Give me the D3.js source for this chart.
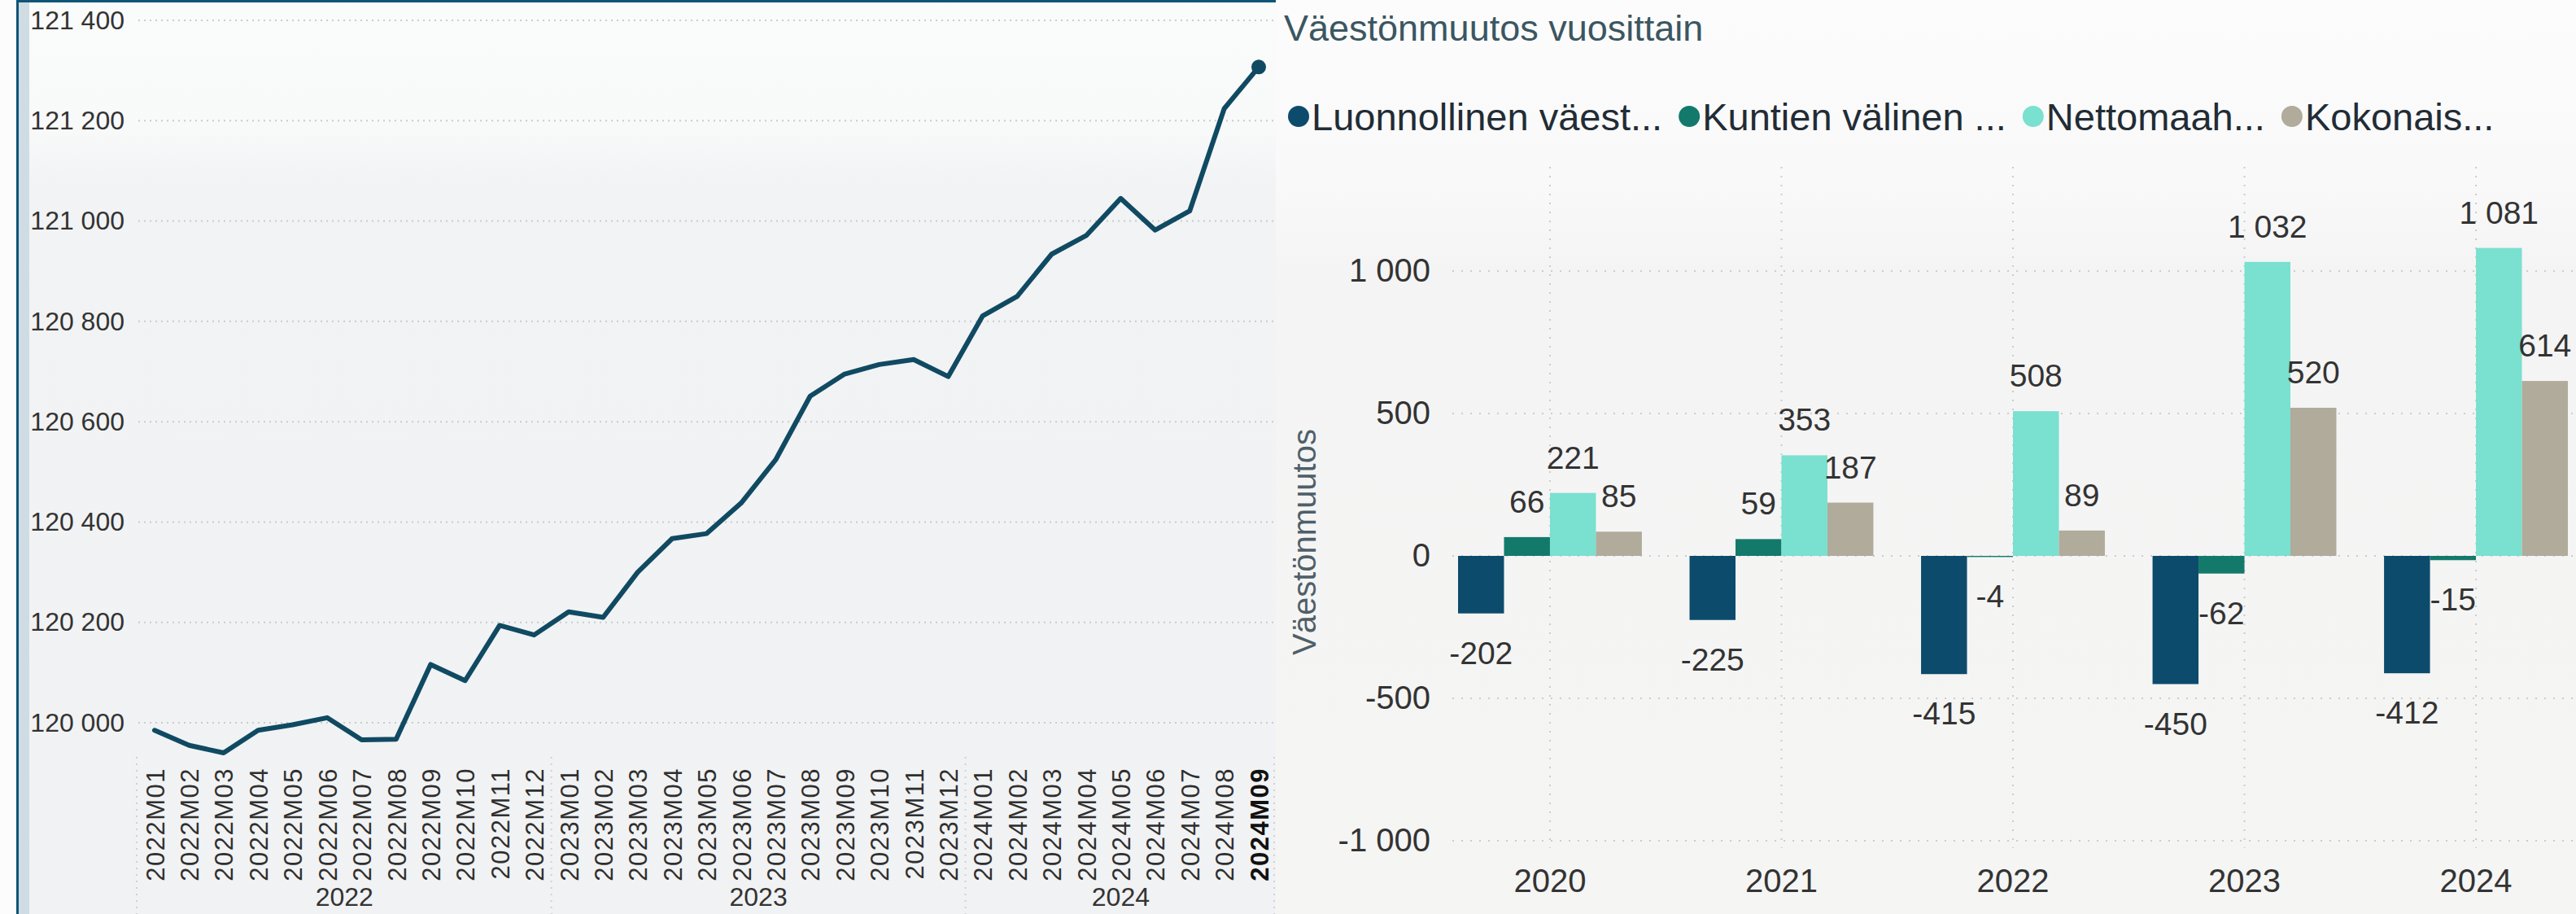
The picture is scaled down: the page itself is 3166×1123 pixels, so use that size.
<!DOCTYPE html>
<html>
<head>
<meta charset="utf-8">
<script src="https://cdn.jsdelivr.net/npm/d3@7"></script>
<style>
  body { margin: 0; background: #fcfcfc; }
  svg { display: block; font-family: "Liberation Sans", Arial, sans-serif; }
</style>
</head>
<body>
<script>
// left chart: population by month
var months = ["2022M01","2022M02","2022M03","2022M04","2022M05","2022M06","2022M07","2022M08","2022M09","2022M10","2022M11","2022M12",
              "2023M01","2023M02","2023M03","2023M04","2023M05","2023M06","2023M07","2023M08","2023M09","2023M10","2023M11","2023M12",
              "2024M01","2024M02","2024M03","2024M04","2024M05","2024M06","2024M07","2024M08","2024M09"];
var population = [119985,119955,119940,119985,119996,120010,119966,119967,120116,120084,120194,120175,
                  120221,120210,120300,120367,120377,120438,120524,120651,120695,120714,120724,120690,
                  120811,120850,120934,120971,121045,120982,121020,121224,121307];
var monthYears = ["2022","2023","2024"];
var popTicks = [120000,120200,120400,120600,120800,121000,121200,121400];

// right chart: yearly change
var years = ["2020","2021","2022","2023","2024"];
var seriesNames = ["Luonnollinen väest...","Kuntien välinen ...","Nettomaah...","Kokonais..."];
var luonnollinen = [-202,-225,-415,-450,-412];
var kuntien = [66,59,-4,-62,-15];
var netto = [221,353,508,1032,1081];
var kokonais = [85,187,89,520,614];
var changeTicks = [-1000,-500,0,500,1000];
var seriesColors = ["#0d4b6c","#137a6b","#7ae0cf","#b0ab9b"];

var W = 3166, H = 1123;
var fi = d3.formatLocale({decimal: ",", thousands: "\u00a0", grouping: [3], currency: ["", " €"], minus: "-"});
var fmt = fi.format(",d");

var svg = d3.select("body").append("svg").attr("width", W).attr("height", H);

var defs = svg.append("defs");
var g1 = defs.append("linearGradient").attr("id","bgL").attr("x1",0).attr("y1",0).attr("x2",0).attr("y2",1);
g1.append("stop").attr("offset","0%").attr("stop-color","#fafbfb");
g1.append("stop").attr("offset","14%").attr("stop-color","#f8f9f9");
g1.append("stop").attr("offset","20%").attr("stop-color","#f2f3f4");
g1.append("stop").attr("offset","100%").attr("stop-color","#f1f2f3");
var g2 = defs.append("linearGradient").attr("id","bgR").attr("x1",0).attr("y1",0).attr("x2",0).attr("y2",1);
g2.append("stop").attr("offset","0%").attr("stop-color","#fcfcfc");
g2.append("stop").attr("offset","20%").attr("stop-color","#f9f9f9");
g2.append("stop").attr("offset","30%").attr("stop-color","#f4f4f4");
g2.append("stop").attr("offset","100%").attr("stop-color","#f5f5f4");

svg.append("rect").attr("x",22).attr("y",0).attr("width",1546).attr("height",H).attr("fill","url(#bgL)");
svg.append("rect").attr("x",1568).attr("y",0).attr("width",W-1568).attr("height",H).attr("fill","url(#bgR)");
svg.append("rect").attr("x",23).attr("y",0).attr("width",13).attr("height",H).attr("fill","#cfdce3");
svg.append("rect").attr("x",20).attr("y",0).attr("width",3).attr("height",H).attr("fill","#0f5577");
svg.append("rect").attr("x",20).attr("y",0).attr("width",1548).attr("height",3).attr("fill","#0f5577");

// ---------- line chart ----------
var x = d3.scalePoint().domain(months).range([190, 1547]);
var y = d3.scaleLinear().domain([120000, 121400]).range([888, 25]);

var left = svg.append("g");

left.append("g").selectAll("line")
    .data(popTicks)
    .enter().append("line")
    .attr("x1", 170).attr("x2", 1565)
    .attr("y1", function(d){ return y(d); })
    .attr("y2", function(d){ return y(d); })
    .attr("stroke", "#c9cbcd").attr("stroke-width", 2)
    .attr("stroke-dasharray", "2 5");

var yAx = left.append("g")
    .attr("transform", "translate(156,0)")
    .call(d3.axisLeft(y).tickValues(popTicks).tickFormat(fmt).tickSize(0).tickPadding(3));
yAx.select(".domain").remove();
yAx.selectAll("text").attr("font-size", 32).attr("fill", "#333").attr("font-family", null);

// separators between years under the axis
var seps = [168];
monthYears.slice(1).forEach(function(yr){
    var i = months.indexOf(yr + "M01");
    seps.push((x(months[i-1]) + x(months[i])) / 2);
});
seps.push(1566);
left.append("g").selectAll("line")
    .data(seps)
    .enter().append("line")
    .attr("x1", function(d){ return d; }).attr("x2", function(d){ return d; })
    .attr("y1", 930).attr("y2", H)
    .attr("stroke", "#cfd1d3").attr("stroke-width", 2)
    .attr("stroke-dasharray", "2 6");

var line = d3.line()
    .x(function(d, i){ return x(months[i]); })
    .y(function(d){ return y(d); });

left.append("path")
    .datum(population)
    .attr("d", line)
    .attr("fill", "none")
    .attr("stroke", "#104a62")
    .attr("stroke-width", 6)
    .attr("stroke-linejoin", "round")
    .attr("stroke-linecap", "round");

left.append("circle")
    .attr("cx", x(months[months.length-1]))
    .attr("cy", y(population[population.length-1]))
    .attr("r", 9)
    .attr("fill", "#104a62");

var xAx = left.append("g")
    .attr("transform", "translate(0,943)")
    .call(d3.axisBottom(x).tickSize(0));
xAx.select(".domain").remove();
xAx.selectAll("text")
    .attr("font-family", null)
    .attr("font-size", 31)
    .attr("letter-spacing", 1.5)
    .attr("transform", "rotate(-90)")
    .attr("x", 0).attr("y", 0).attr("dy", "0.36em")
    .attr("text-anchor", "end")
    .attr("font-weight", function(d){ return d === months[months.length-1] ? "bold" : null; })
    .attr("fill", function(d){ return d === months[months.length-1] ? "#111" : "#2f2f2f"; });

left.append("g").selectAll("text")
    .data(monthYears)
    .enter().append("text")
    .attr("x", function(yr){
        var ms = months.filter(function(m){ return m.indexOf(yr) === 0; });
        return (x(ms[0]) + x(ms[ms.length-1])) / 2;
    })
    .attr("y", 1113)
    .attr("text-anchor", "middle")
    .attr("font-size", 32)
    .attr("fill", "#333")
    .text(function(d){ return d; });

// ---------- bar chart ----------
var right = svg.append("g");
var series = [luonnollinen, kuntien, netto, kokonais];

right.append("text")
    .attr("x", 1578).attr("y", 50)
    .attr("font-size", 45)
    .attr("fill", "#3b5661")
    .text("Väestönmuutos vuosittain");

// legend
var lx = 1583;
seriesNames.forEach(function(name, i){
    var item = right.append("g");
    item.append("circle").attr("cx", lx + 13).attr("cy", 143).attr("r", 13).attr("fill", seriesColors[i]);
    var t = item.append("text").attr("x", lx + 29).attr("y", 160)
        .attr("font-size", 47).attr("fill", "#222c35").text(name);
    lx = lx + 29 + t.node().getComputedTextLength() + 20;
});

var xb = d3.scaleBand().domain(years).range([1792, 3156]).paddingInner(0.206).paddingOuter(0);
var xs = d3.scaleBand().domain(d3.range(seriesNames.length)).range([0, xb.bandwidth()]);
var yb = d3.scaleLinear().domain([-1000, 1000]).range([1033, 333]);

right.append("g").selectAll("line")
    .data(changeTicks)
    .enter().append("line")
    .attr("x1", 1785).attr("x2", W)
    .attr("y1", function(d){ return yb(d); })
    .attr("y2", function(d){ return yb(d); })
    .attr("stroke", "#cbcccd").attr("stroke-width", 2)
    .attr("stroke-dasharray", "2 9");

right.append("g").selectAll("line")
    .data(years)
    .enter().append("line")
    .attr("x1", function(d){ return xb(d) + xb.bandwidth()/2; })
    .attr("x2", function(d){ return xb(d) + xb.bandwidth()/2; })
    .attr("y1", 205).attr("y2", 1042)
    .attr("stroke", "#cbcccd").attr("stroke-width", 2)
    .attr("stroke-dasharray", "2 9");

var ybAx = right.append("g")
    .attr("transform", "translate(1761,0)")
    .call(d3.axisLeft(yb).tickValues(changeTicks).tickFormat(fmt).tickSize(0).tickPadding(3));
ybAx.select(".domain").remove();
ybAx.selectAll("text").attr("font-family", null).attr("font-size", 40).attr("fill", "#333");

right.append("text")
    .attr("transform", "translate(1617,666) rotate(-90)")
    .attr("text-anchor", "middle")
    .attr("font-size", 40)
    .attr("fill", "#4f5f69")
    .text("Väestönmuutos");

var xbAx = right.append("g")
    .attr("transform", "translate(0,1068)")
    .call(d3.axisBottom(xb).tickSize(0).tickPadding(0));
xbAx.select(".domain").remove();
xbAx.selectAll("text").attr("font-family", null).attr("font-size", 40).attr("fill", "#333");

var groups = right.append("g").selectAll("g")
    .data(years)
    .enter().append("g")
    .attr("transform", function(d){ return "translate(" + xb(d) + ",0)"; });

groups.selectAll("rect")
    .data(function(d, yi){ return series.map(function(s, si){ return {si: si, v: s[yi]}; }); })
    .enter().append("rect")
    .attr("x", function(d){ return xs(d.si); })
    .attr("width", xs.bandwidth())
    .attr("y", function(d){ return yb(Math.max(0, d.v)); })
    .attr("height", function(d){ return Math.abs(yb(d.v) - yb(0)); })
    .attr("fill", function(d){ return seriesColors[d.si]; });

groups.selectAll("text")
    .data(function(d, yi){ return series.map(function(s, si){ return {si: si, v: s[yi]}; }); })
    .enter().append("text")
    .attr("x", function(d){ return xs(d.si) + xs.bandwidth()/2; })
    .attr("y", function(d){ return d.v >= 0 ? yb(d.v) - 30 : yb(d.v) + 62; })
    .attr("text-anchor", "middle")
    .attr("font-size", 39)
    .attr("fill", "#333")
    .text(function(d){ return fmt(d.v); });
</script>
</body>
</html>
